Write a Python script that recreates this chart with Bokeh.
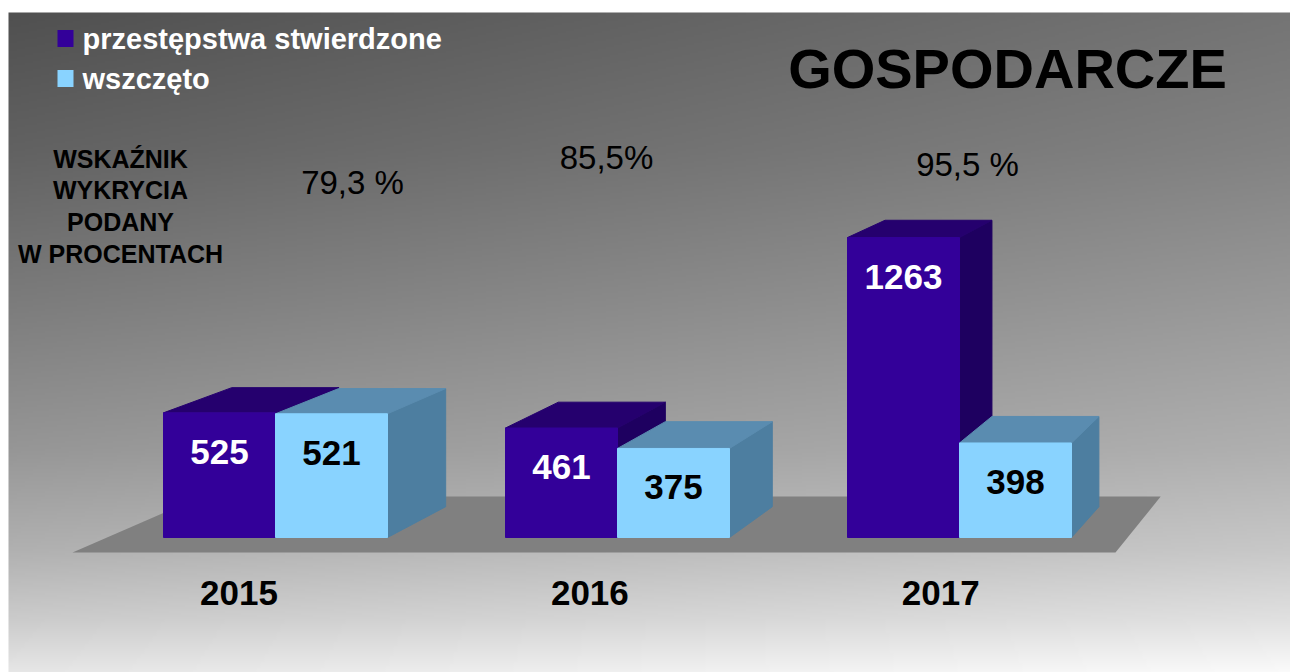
import numpy as np
from bokeh.plotting import figure
from bokeh.models import Range1d, ColumnDataSource
from bokeh.core.properties import value
from bokeh.embed import file_html
from bokeh.resources import INLINE

# ---------------- data ----------------
years = ["2015", "2016", "2017"]
series_names = ["przestępstwa stwierdzone", "wszczęto"]
stwierdzone = [525, 461, 1263]
wszczeto = [521, 375, 398]
wskaznik = ["79,3 %", "85,5%", "95,5 %"]
title_text = "GOSPODARCZE"
note_lines = ["WSKAŹNIK", "WYKRYCIA", "PODANY", "W PROCENTACH"]

# ---------------- layout / style ----------------
W, H = 1290, 672
PX0, PY0 = 0, 0
BASE_PY = 537          # page y of value 0 (front face bottom)
PX_PER_UNIT = 0.2375   # pixels per unit of value
FONT = value("Liberation Sans")

C_PURPLE = "#330099"
C_PURPLE_TOP = "#25006e"
C_PURPLE_SIDE = "#1e0060"
C_LIGHT = "#89d3ff"
C_LIGHT_TOP = "#5a8cb0"
C_LIGHT_SIDE = "#4d7ea0"
C_FLOOR = "#808080"


def Y(py):
    """page pixel y -> data value"""
    return (BASE_PY - py) / PX_PER_UNIT


VPX, VPV = 1680.0, Y(-147)   # vanishing point for the depth
K_BAR = 0.955
K_FLOOR = 0.92


def back(x, v, k=K_BAR):
    return VPX + k * (x - VPX), VPV + k * (v - VPV)


GROUP_LEFT0, GROUP_STEP, BAR_W = 163, 342, 112

p = figure(width=W, height=H,
           x_range=Range1d(PX0, PX0 + W), y_range=Range1d(Y(PY0 + H), Y(PY0)),
           output_backend="svg", toolbar_location=None,
           x_axis_location=None, y_axis_location=None, min_border=0)
p.grid.visible = False
p.outline_line_color = None
p.background_fill_color = "white"
p.border_fill_color = "white"

# ---------------- background gradient ----------------
left_px, top_py, bot_py = 8, 12, PY0 + H
ny, nx = 330, 320
py = np.linspace(bot_py, top_py, ny)[:, None]
pxs = np.linspace(left_px, PX0 + W, nx)[None, :]
g = np.interp(py, [12, 150, 300, 450, 550, 620, 672], [98, 114, 138, 163, 188, 214, 240])
hcomp = np.interp(py, [12, 672], [18, 10])
L = np.clip(g + hcomp * (pxs - 640) / 640, 0, 255).astype(np.uint8)
img = np.empty((ny, nx), dtype=np.uint32)
view = img.view(dtype=np.uint8).reshape((ny, nx, 4))
view[:, :, 0] = L
view[:, :, 1] = L
view[:, :, 2] = L
view[:, :, 3] = 255
p.image_rgba(image=[img], x=left_px, y=Y(bot_py), dw=PX0 + W - left_px, dh=Y(top_py) - Y(bot_py))

# ---------------- floor ----------------
fl_v = Y(552)
fl_front = [(72, fl_v), (1115, fl_v)]
fl_back = [back(x, v, K_FLOOR) for x, v in fl_front]
p.patch(x=[fl_front[0][0], fl_front[1][0], fl_back[1][0], fl_back[0][0]],
        y=[fl_front[0][1], fl_front[1][1], fl_back[1][1], fl_back[0][1]],
        fill_color=C_FLOOR, line_color=None)


# ---------------- 3D bars ----------------
def draw_series(vals, offset, c_front, c_top, c_side):
    x0s = [GROUP_LEFT0 + i * GROUP_STEP + offset for i in range(len(vals))]
    x1s = [x0 + BAR_W for x0 in x0s]
    side_x, side_y, top_x, top_y = [], [], [], []
    for x0, x1, v in zip(x0s, x1s, vals):
        b1v = back(x1, v)
        b10 = back(x1, 0)
        b0v = back(x0, v)
        side_x.append([x1, x1, b1v[0], b10[0]])
        side_y.append([0, v, b1v[1], b10[1]])
        top_x.append([x0, x1, b1v[0], b0v[0]])
        top_y.append([v, v, b1v[1], b0v[1]])
    p.patches(xs=side_x, ys=side_y, fill_color=c_side, line_color=c_side, line_width=1)
    p.patches(xs=top_x, ys=top_y, fill_color=c_top, line_color=c_top, line_width=1)
    src = ColumnDataSource(dict(left=x0s, right=x1s, top=vals, bottom=[0] * len(vals)))
    p.quad(left="left", right="right", top="top", bottom="bottom", source=src,
           fill_color=c_front, line_color=c_front, line_width=1)
    return [(a + b) / 2 for a, b in zip(x0s, x1s)]


cx_p = draw_series(stwierdzone, 0, C_PURPLE, C_PURPLE_TOP, C_PURPLE_SIDE)
cx_l = draw_series(wszczeto, BAR_W, C_LIGHT, C_LIGHT_TOP, C_LIGHT_SIDE)

LABEL_DROP = 39 / PX_PER_UNIT
p.text(x=cx_p, y=[v - LABEL_DROP for v in stwierdzone], text=[str(v) for v in stwierdzone],
       text_font=FONT, text_font_style="bold", text_font_size="35px",
       text_color="white", text_align="center", text_baseline="middle")
p.text(x=cx_l, y=[v - LABEL_DROP for v in wszczeto], text=[str(v) for v in wszczeto],
       text_font=FONT, text_font_style="bold", text_font_size="35px",
       text_color="black", text_align="center", text_baseline="middle")

# ---------------- year labels ----------------
group_centers = [GROUP_LEFT0 + i * GROUP_STEP + BAR_W for i in range(len(years))]
year_x = [VPX + 1.026 * (c - VPX) for c in group_centers]
p.text(x=year_x, y=[Y(592)] * len(years), text=years,
       text_font=FONT, text_font_style="bold", text_font_size="35px",
       text_color="black", text_align="center", text_baseline="middle")

# ---------------- detection rate labels ----------------
pct_pos = [(352, 182), (606, 157), (967, 164)]
p.text(x=[a for a, b in pct_pos], y=[Y(b) for a, b in pct_pos], text=wskaznik,
       text_font=FONT, text_font_size="33px", text_color="black",
       text_align="center", text_baseline="middle")

# ---------------- note ----------------
p.text(x=[120] * len(note_lines), y=[Y(158 + 31.7 * i) for i in range(len(note_lines))],
       text=note_lines, text_font=FONT, text_font_style="bold", text_font_size="25px",
       text_color="black", text_align="center", text_baseline="middle")

# ---------------- title ----------------
p.text(x=[1007], y=[Y(68)], text=[title_text], text_font=FONT, text_font_style="bold",
       text_font_size="56px", text_color="black", text_align="center", text_baseline="middle")

# ---------------- legend ----------------
leg_rows = [38, 78]
p.quad(left=[57, 57], right=[73, 73], top=[Y(r - 8.5) for r in leg_rows],
       bottom=[Y(r + 8.5) for r in leg_rows], fill_color=[C_PURPLE, C_LIGHT], line_color=None)
p.text(x=[82, 82], y=[Y(r) for r in leg_rows], text=series_names,
       text_font=FONT, text_font_style="bold", text_font_size="29px",
       text_color="white", text_align="left", text_baseline="middle")

open("out.html", "w").write(file_html(p, INLINE))
